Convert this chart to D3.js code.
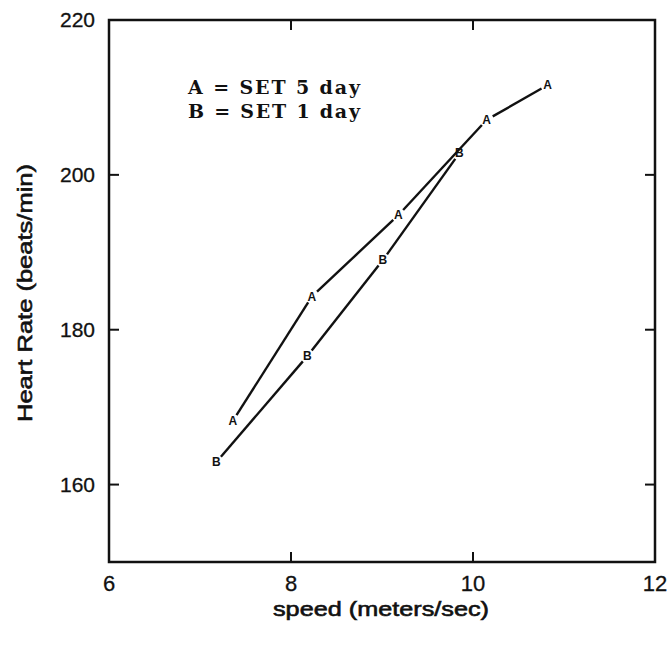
<!DOCTYPE html>
<html><head><meta charset="utf-8">
<script src="https://cdn.jsdelivr.net/npm/d3@7/dist/d3.min.js"></script>
<style>body{margin:0;background:#fff}svg{display:block}</style>
</head><body>
<svg id="c" width="670" height="645"></svg>
<script>
const seriesA_speed = [7.36, 8.23, 9.18, 10.15, 10.82];
const seriesA_hr    = [168.2, 184.3, 194.8, 207.1, 211.6];
const seriesB_speed = [7.18, 8.18, 9.01, 9.85];
const seriesB_hr    = [162.9, 176.6, 189.0, 202.8];
const xTicks = [6, 8, 10, 12];
const yTicks = [160, 180, 200, 220];
const legendLines = ["A = SET 5 day", "B = SET 1 day"];

const svg = d3.select("#c");
const L = 109, R = 655, T = 20, B = 562;
const x = d3.scaleLinear().domain([6, 12]).range([L, R]);
const y = d3.scaleLinear().domain([150, 220]).range([B, T]);
const sans = "Liberation Sans, Arial, sans-serif";

// frame
svg.append("rect").attr("x", L).attr("y", T).attr("width", R - L).attr("height", B - T)
  .attr("fill", "none").attr("stroke", "#111").attr("stroke-width", 2.5);

const tl = 10;
const innerX = xTicks.filter(v => v > 6 && v < 12);
const innerY = yTicks.filter(v => v > 150 && v < 220);
innerX.forEach(v => {
  svg.append("line").attr("x1", x(v)).attr("x2", x(v)).attr("y1", B).attr("y2", B - tl).attr("stroke", "#111").attr("stroke-width", 2);
  svg.append("line").attr("x1", x(v)).attr("x2", x(v)).attr("y1", T).attr("y2", T + tl).attr("stroke", "#111").attr("stroke-width", 2);
});
innerY.forEach(v => {
  svg.append("line").attr("x1", L).attr("x2", L + tl).attr("y1", y(v)).attr("y2", y(v)).attr("stroke", "#111").attr("stroke-width", 2);
  svg.append("line").attr("x1", R).attr("x2", R - tl).attr("y1", y(v)).attr("y2", y(v)).attr("stroke", "#111").attr("stroke-width", 2);
});

// tick labels
svg.append("g").selectAll("text").data(xTicks).join("text")
  .attr("x", d => x(d)).attr("y", 591).attr("text-anchor", "middle")
  .attr("font-family", sans).attr("font-size", 22).attr("fill", "#111")
  .attr("stroke", "#111").attr("stroke-width", 0.3).text(d => d);
svg.append("g").selectAll("text").data(yTicks).join("text")
  .attr("x", 95).attr("y", d => y(d)).attr("dy", "0.35em").attr("text-anchor", "end")
  .attr("font-family", sans).attr("font-size", 21).attr("fill", "#111")
  .attr("stroke", "#111").attr("stroke-width", 0.3).text(d => d);

// axis titles
svg.append("text").attr("x", (L + R) / 2 - 1).attr("y", 616).attr("text-anchor", "middle")
  .attr("font-family", sans).attr("font-size", 20).attr("fill", "#111")
  .attr("stroke", "#111").attr("stroke-width", 0.6)
  .attr("textLength", 216).attr("lengthAdjust", "spacingAndGlyphs")
  .text("speed (meters/sec)");
svg.append("text").attr("transform", `translate(32,${(T + B) / 2 + 2}) rotate(-90)`).attr("text-anchor", "middle")
  .attr("font-family", sans).attr("font-size", 21).attr("fill", "#111")
  .attr("stroke", "#111").attr("stroke-width", 0.6)
  .attr("textLength", 258).attr("lengthAdjust", "spacingAndGlyphs")
  .text("Heart Rate (beats/min)");

// legend
legendLines.forEach((t, i) => {
  svg.append("text").attr("x", 188).attr("y", 94 + i * 24)
    .attr("font-family", "DejaVu Serif, serif").attr("font-size", 19).attr("font-weight", "bold")
    .attr("fill", "#111").attr("xml:space", "preserve")
    .attr("textLength", 172).attr("lengthAdjust", "spacing").text(t);
});

// series
function drawSeries(xs, ys, label) {
  const pts = xs.map((v, i) => [x(v), y(ys[i])]);
  const gap = 7;
  for (let i = 0; i < pts.length - 1; i++) {
    const [x1, y1] = pts[i], [x2, y2] = pts[i + 1];
    const dx = x2 - x1, dy = y2 - y1, len = Math.hypot(dx, dy);
    const ux = dx / len, uy = dy / len;
    svg.append("line").attr("x1", x1 + ux * gap).attr("y1", y1 + uy * gap)
      .attr("x2", x2 - ux * gap).attr("y2", y2 - uy * gap)
      .attr("stroke", "#111").attr("stroke-width", 2.4);
  }
  svg.append("g").selectAll("text").data(pts).join("text")
    .attr("x", d => d[0]).attr("y", d => d[1]).attr("dy", "0.36em").attr("text-anchor", "middle")
    .attr("font-family", sans).attr("font-size", 12).attr("font-weight", "bold").attr("fill", "#111")
    .text(label);
}
drawSeries(seriesA_speed, seriesA_hr, "A");
drawSeries(seriesB_speed, seriesB_hr, "B");
</script>
</body></html>
